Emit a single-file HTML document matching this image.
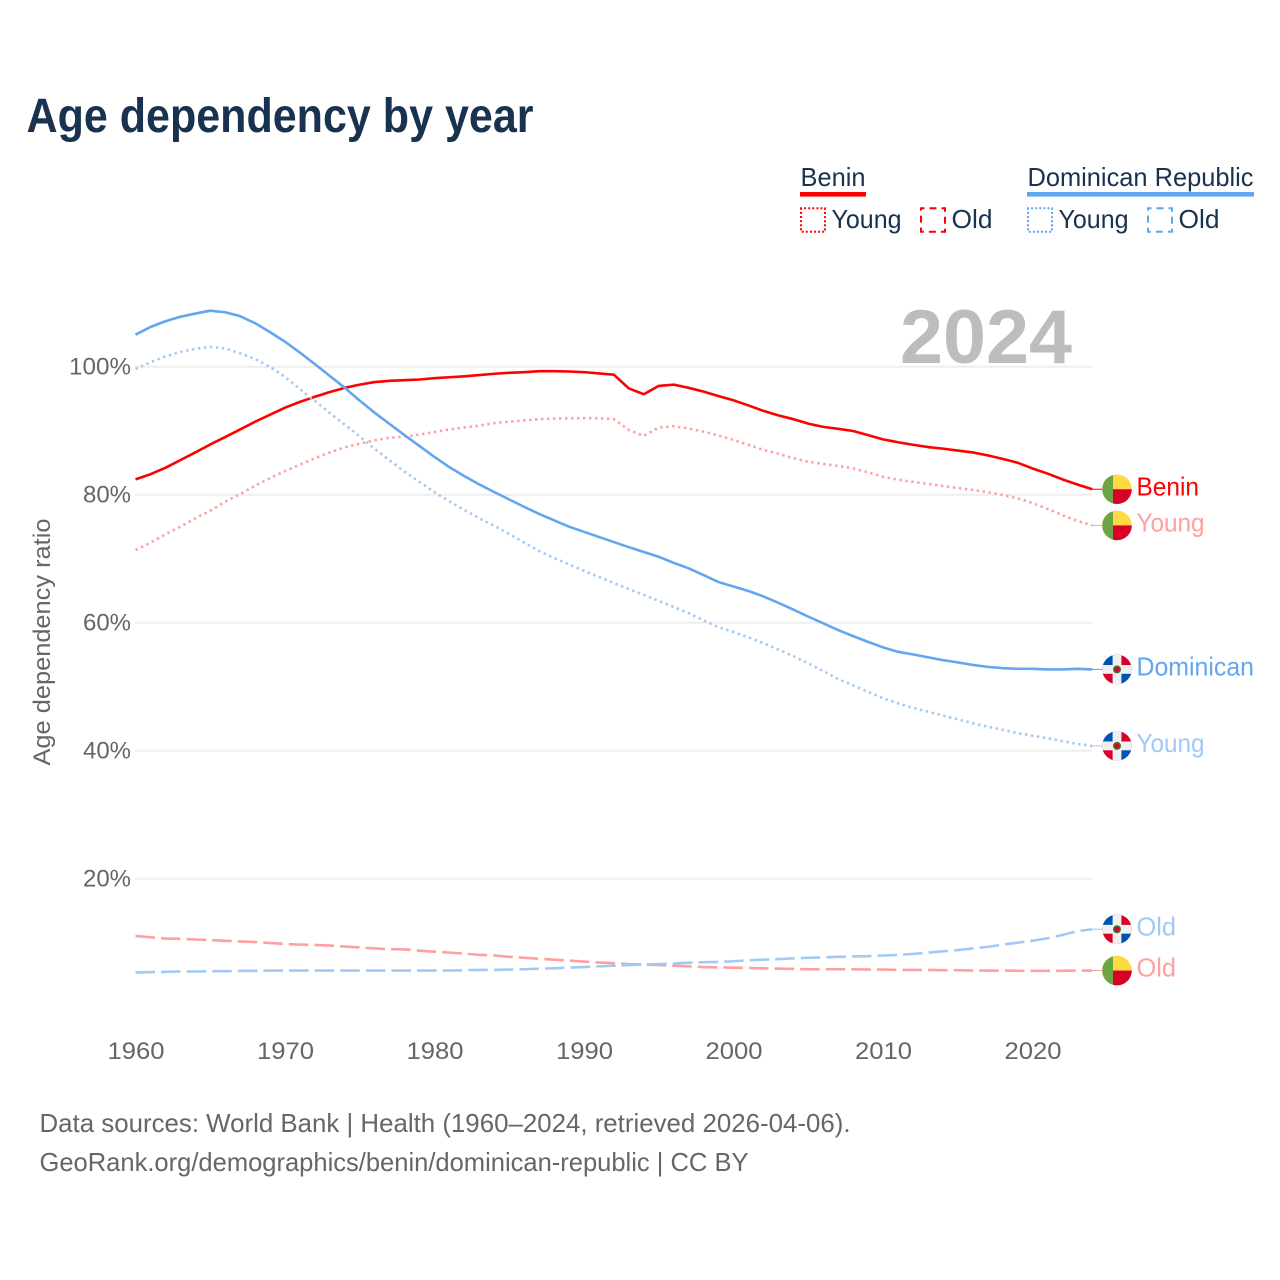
<!DOCTYPE html>
<html lang="en">
<head>
<meta charset="utf-8">
<title>Age dependency by year</title>
<style>
html,body{margin:0;padding:0;background:#fff;}
body{width:1280px;height:1280px;overflow:hidden;}
svg{display:block;}
text{font-family:"Liberation Sans",sans-serif;}
</style>
</head>
<body>
<svg id="chart" xmlns="http://www.w3.org/2000/svg" width="1280" height="1280" viewBox="0 0 1280 1280">
  <defs>
    <clipPath id="flag-clip"><circle cx="0" cy="0" r="14.8"></circle></clipPath>
  </defs>
  <rect x="0" y="0" width="1280" height="1280" fill="#fff"></rect>
  <text x="26.5" y="132" font-size="48" font-weight="700" fill="#18324f" textLength="507" lengthAdjust="spacingAndGlyphs">Age dependency by year</text>

  <g>
    <g>
      <text x="800.5" y="186" font-size="26" fill="#18324f" textLength="65" lengthAdjust="spacingAndGlyphs">Benin</text>
      <rect x="800" y="192" width="66" height="4.6" fill="#ff0000"></rect>
      <rect x="801" y="208.3" width="24" height="23.4" fill="none" stroke="#ff0000" stroke-width="2" stroke-dasharray="2 2.1" stroke-dashoffset="1"></rect>
      <text x="831.5" y="228" font-size="26" fill="#18324f" textLength="70" lengthAdjust="spacingAndGlyphs">Young</text>
      <rect x="921" y="208.3" width="24" height="23.4" fill="none" stroke="#ff0000" stroke-width="2" stroke-dasharray="7 5" stroke-dashoffset="3.5"></rect>
      <text x="951.5" y="228" font-size="26" fill="#18324f" textLength="41" lengthAdjust="spacingAndGlyphs">Old</text>
    </g>
    <g>
      <text x="1027.5" y="186" font-size="26" fill="#18324f" textLength="226" lengthAdjust="spacingAndGlyphs">Dominican Republic</text>
      <rect x="1027" y="192" width="227" height="4.6" fill="#62a6ef"></rect>
      <rect x="1028" y="208.3" width="24" height="23.4" fill="none" stroke="#62a6ef" stroke-width="2" stroke-dasharray="2 2.1" stroke-dashoffset="1"></rect>
      <text x="1058.5" y="228" font-size="26" fill="#18324f" textLength="70" lengthAdjust="spacingAndGlyphs">Young</text>
      <rect x="1148" y="208.3" width="24" height="23.4" fill="none" stroke="#62a6ef" stroke-width="2" stroke-dasharray="7 5" stroke-dashoffset="3.5"></rect>
      <text x="1178.5" y="228" font-size="26" fill="#18324f" textLength="41" lengthAdjust="spacingAndGlyphs">Old</text>
    </g>
  </g>

  <g id="grid"></g>
  <text x="900" y="363" font-size="76" font-weight="700" fill="#bdbdbd" textLength="172" lengthAdjust="spacingAndGlyphs">2024</text>
  <g id="y-ticks"></g>
  <g id="x-ticks"></g>
  <text transform="translate(50,642) rotate(-90)" text-anchor="middle" font-size="24" fill="#666666" textLength="247" lengthAdjust="spacingAndGlyphs">Age dependency ratio</text>
  <g id="series"></g>
  <g id="endpoints"></g>

  <text x="39.5" y="1132" font-size="26" fill="#666666" textLength="811" lengthAdjust="spacingAndGlyphs">Data sources: World Bank | Health (1960–2024, retrieved 2026-04-06).</text>
  <text x="39.5" y="1171" font-size="26" fill="#666666" textLength="709" lengthAdjust="spacingAndGlyphs">GeoRank.org/demographics/benin/dominican-republic | CC BY</text>
</svg>
<script>
const years = [1960,1961,1962,1963,1964,1965,1966,1967,1968,1969,1970,1971,1972,1973,1974,1975,1976,1977,1978,1979,1980,1981,1982,1983,1984,1985,1986,1987,1988,1989,1990,1991,1992,1993,1994,1995,1996,1997,1998,1999,2000,2001,2002,2003,2004,2005,2006,2007,2008,2009,2010,2011,2012,2013,2014,2015,2016,2017,2018,2019,2020,2021,2022,2023,2024];
const beninTotal = [82.4,83.2,84.2,85.4,86.6,87.85,89.0,90.2,91.4,92.5,93.6,94.5,95.3,96.05,96.7,97.2,97.6,97.8,97.9,98.0,98.2,98.35,98.5,98.7,98.9,99.05,99.15,99.3,99.3,99.25,99.15,98.95,98.75,96.6,95.7,97.0,97.2,96.7,96.1,95.4,94.75,93.95,93.1,92.4,91.8,91.1,90.6,90.3,89.95,89.3,88.65,88.2,87.8,87.45,87.2,86.9,86.6,86.15,85.6,85.0,84.1,83.3,82.4,81.6,80.85];
const beninYoung = [71.36,72.5,73.8,75.0,76.3,77.5,78.9,80.1,81.4,82.6,83.7,84.7,85.7,86.6,87.4,88.0,88.5,88.9,89.1,89.4,89.8,90.2,90.5,90.8,91.2,91.4,91.6,91.8,91.9,91.95,91.95,91.95,91.8,90.1,89.2,90.5,90.7,90.35,89.85,89.25,88.55,87.8,87.0,86.4,85.7,85.15,84.8,84.5,84.1,83.5,82.8,82.35,82.0,81.7,81.35,81.05,80.75,80.4,79.95,79.45,78.7,77.8,76.8,75.9,75.2];
const beninOld = [11.05,10.85,10.65,10.6,10.5,10.4,10.3,10.2,10.1,9.95,9.8,9.7,9.65,9.55,9.4,9.25,9.1,9.0,8.95,8.75,8.6,8.45,8.3,8.1,8.0,7.8,7.65,7.5,7.35,7.2,7.05,6.9,6.8,6.65,6.6,6.5,6.4,6.3,6.2,6.15,6.1,6.05,6.0,5.95,5.9,5.85,5.85,5.85,5.85,5.8,5.8,5.75,5.75,5.75,5.7,5.7,5.65,5.65,5.65,5.6,5.6,5.6,5.6,5.65,5.65];
const dominicanTotal = [105.0,106.2,107.1,107.8,108.3,108.75,108.5,107.9,106.8,105.4,103.9,102.2,100.4,98.55,96.7,94.7,92.8,91.05,89.3,87.6,85.9,84.3,82.9,81.6,80.4,79.25,78.1,77.0,76.0,75.0,74.2,73.4,72.6,71.8,71.05,70.3,69.35,68.5,67.45,66.35,65.65,64.95,64.1,63.1,62.05,60.95,59.9,58.85,57.9,57.0,56.15,55.45,55.05,54.6,54.15,53.8,53.4,53.1,52.9,52.8,52.8,52.7,52.7,52.8,52.7];
const dominicanYoung = [99.65,100.7,101.6,102.3,102.8,103.1,102.85,102.1,101.2,99.95,98.4,96.5,94.65,92.75,90.95,89.1,87.15,85.35,83.6,82.0,80.4,78.95,77.6,76.3,75.15,73.85,72.5,71.2,70.1,69.1,68.1,67.15,66.2,65.25,64.35,63.4,62.45,61.5,60.35,59.3,58.55,57.7,56.8,55.8,54.8,53.65,52.45,51.2,50.2,49.2,48.2,47.4,46.7,46.1,45.5,44.9,44.3,43.75,43.25,42.75,42.35,41.95,41.5,41.05,40.75];
const dominicanOld = [5.35,5.4,5.45,5.5,5.5,5.55,5.55,5.6,5.6,5.65,5.65,5.65,5.65,5.65,5.65,5.65,5.65,5.65,5.65,5.65,5.65,5.65,5.7,5.75,5.75,5.8,5.85,5.95,6.0,6.1,6.2,6.3,6.4,6.5,6.6,6.65,6.75,6.85,6.95,7.0,7.1,7.25,7.35,7.45,7.55,7.65,7.7,7.8,7.85,7.9,8.0,8.1,8.25,8.45,8.65,8.85,9.1,9.35,9.7,10.0,10.3,10.7,11.2,11.8,12.1];
const yTickValues = [20,40,60,80,100];
const xTickValues = [1960,1970,1980,1990,2000,2010,2020];

const NS = 'http://www.w3.org/2000/svg';
function xScale(year){ return 135.5 + (year - 1960) * 14.95; }
function yScale(value){ return 1006.7 - value * 6.4; }
function make(tag, attrs, parent){
  const el = document.createElementNS(NS, tag);
  for (const k in attrs) el.setAttribute(k, attrs[k]);
  parent.appendChild(el);
  return el;
}

const gridG = document.getElementById('grid');
const yG = document.getElementById('y-ticks');
yTickValues.forEach(function(v){
  const line = make('line', {x1:135, x2:1092, y1:yScale(v), y2:yScale(v), stroke:'#eeeeee', 'stroke-width':2}, gridG);
  
  
  const label = String(v) + '%';
  const t = make('text', {x:131, y:yScale(v) + 7.6, 'text-anchor':'end', 'font-size':24, fill:'#666666', textLength:(label.length - 1) * 14 + 20, lengthAdjust:'spacingAndGlyphs'}, yG);
  
  
  t.textContent = label;
});

const xG = document.getElementById('x-ticks');
xTickValues.forEach(function(y){
  const t = make('text', {x:xScale(y) + 0.5, y:1059, 'text-anchor':'middle', 'font-size':24, fill:'#666666', textLength:57, lengthAdjust:'spacingAndGlyphs'}, xG);
  
  
  t.textContent = String(y);
});

function drawSeries(values, key, color, dash){
  const d = values.map(function(v, i){
    return (i ? 'L' : 'M') + xScale(years[i]).toFixed(2) + ' ' + yScale(v).toFixed(2);
  }).join(' ');
  const path = make('path', {d:d, fill:'none', stroke:color, 'stroke-width':2.6, 'stroke-linejoin':'round'}, document.getElementById('series'));
  if (dash) path.setAttribute('stroke-dasharray', dash);
  
  
}

function drawBeninFlag(g){
  const clip = make('g', {'clip-path':'url(#flag-clip)'}, g);
  make('rect', {x:-15, y:-15, width:30, height:30, fill:'#ffda44'}, clip);
  make('rect', {x:-4, y:0, width:19, height:15, fill:'#d80027'}, clip);
  make('rect', {x:-15, y:-15, width:11, height:30, fill:'#6da544'}, clip);
}
function drawDominicanFlag(g){
  const clip = make('g', {'clip-path':'url(#flag-clip)'}, g);
  make('rect', {x:-15, y:-15, width:15, height:15, fill:'#0052b4'}, clip);
  make('rect', {x:0, y:-15, width:15, height:15, fill:'#d80027'}, clip);
  make('rect', {x:-15, y:0, width:15, height:15, fill:'#d80027'}, clip);
  make('rect', {x:0, y:0, width:15, height:15, fill:'#0052b4'}, clip);
  make('rect', {x:-4.4, y:-15, width:8.8, height:30, fill:'#f0f0f0'}, clip);
  make('rect', {x:-15, y:-4.4, width:30, height:8.8, fill:'#f0f0f0'}, clip);
  make('circle', {cx:0, cy:0, r:4, fill:'#496e2d'}, clip);
  make('circle', {cx:0, cy:0, r:2.4, fill:'#d80027'}, clip);
}

function drawEnd(values, key, text, labelWidth, color, flag){
  const last = values[values.length - 1];
  const px = xScale(years[years.length - 1]);
  const py = yScale(last);
  const host = document.getElementById('endpoints');
  const leader = make('line', {x1:px, x2:1102, y1:py, y2:py, stroke:color, 'stroke-width':1}, host);
  
  
  const g = make('g', {transform:'translate(1117,' + py.toFixed(2) + ')'}, host);
  
  
  if (flag === 'benin') drawBeninFlag(g); else drawDominicanFlag(g);
  const t = make('text', {x:1136.5, y:py + 6, 'font-size':26, fill:color, textLength:labelWidth, lengthAdjust:'spacingAndGlyphs'}, host);
  
  
  t.textContent = text;
}

const RED = '#ff0000', RED_LIGHT = '#ff9f9f', BLUE = '#62a6ef', BLUE_LIGHT = '#a2c9f5';
const DOT = '2.4 3.6', DASH = '19.5 6.1';
drawSeries(beninOld, 'benin-old', RED_LIGHT, DASH);
drawSeries(beninYoung, 'benin-young', RED_LIGHT, DOT);
drawSeries(beninTotal, 'benin-total', RED, null);
drawSeries(dominicanOld, 'dominican-old', BLUE_LIGHT, DASH);
drawSeries(dominicanYoung, 'dominican-young', BLUE_LIGHT, DOT);
drawSeries(dominicanTotal, 'dominican-total', BLUE, null);

drawEnd(beninTotal, 'benin-total', 'Benin', 62.5, RED, 'benin');
drawEnd(beninYoung, 'benin-young', 'Young', 68, RED_LIGHT, 'benin');
drawEnd(beninOld, 'benin-old', 'Old', 39.5, RED_LIGHT, 'benin');
drawEnd(dominicanTotal, 'dominican-total', 'Dominican', 117.5, BLUE, 'dominican');
drawEnd(dominicanYoung, 'dominican-young', 'Young', 68, BLUE_LIGHT, 'dominican');
drawEnd(dominicanOld, 'dominican-old', 'Old', 39.5, BLUE_LIGHT, 'dominican');
</script>
</body>
</html>
